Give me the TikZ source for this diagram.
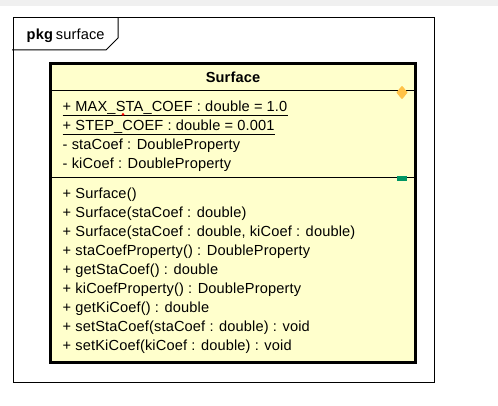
\documentclass[tikz,border=0pt]{standalone}
\usepackage{fontspec}
\setmainfont[LetterSpace=1.0]{Liberation Sans}
\usetikzlibrary{shapes.geometric}
\definecolor{classfill}{RGB}{255,255,204}
\definecolor{topgray}{RGB}{240,240,240}
\definecolor{attrorange}{RGB}{255,194,72}
\definecolor{opgreen}{RGB}{0,150,100}

\begin{document}
\begin{tikzpicture}[x=1pt,y=-1pt,
    member/.style={anchor=base west,inner sep=0pt,font=\fontsize{14.6}{17}\selectfont},
    thinline/.style={line width=1pt}]
  \useasboundingbox (0,0) rectangle (498,406);
  \fill[topgray] (0,0) rectangle (498,6);
  % package frame and its tab
  \draw[thinline] (13,18) rectangle (434,382);
  \draw[thinline] (12,50) -- (106,50) -- (118,38) -- (118,18);
  \node[member,font=\fontsize{14.6}{17}\selectfont\bfseries] (pkgkw) at (26.5,40) {pkg};
  \node[member] (pkgname) at ([xshift=2.5pt]pkgkw.base east) {surface};
  % class box
  \fill[classfill] (50.5,63.5) rectangle (415.5,362.5);
  \draw[thinline] (50.5,91) -- (415.5,91);
  \draw[thinline] (50.5,178) -- (415.5,178);
  \draw[line width=3pt] (50.5,63.5) rectangle (415.5,362.5);
  \node[member,anchor=base,font=\fontsize{14.6}{17}\selectfont\bfseries] (cname) at (233,82.7) {Surface};
  \node[diamond,fill=attrorange,draw=attrorange,line join=round,line width=1.5pt,inner sep=0pt,minimum width=10pt,minimum height=12pt] (attrmark) at (402,92.5) {};
  \node[fill=opgreen,inner sep=0pt,minimum width=10pt,minimum height=5pt] (opmark) at (402,178.5) {};
  % attributes
  \node[member] (attr1) at (62.5,112) {+ MAX\_STA\_COEF : double = 1.0};
  \node[member] (attr2) at (62.5,131) {+ STEP\_COEF : double = 0.001};
  \node[member] (attr3) at (62.5,150) {- staCoef : DoubleProperty};
  \node[member] (attr4) at (62.5,169) {- kiCoef : DoubleProperty};
  \draw[thinline] ([yshift=-3.8pt]attr1.base west) -- ([yshift=-3.8pt]attr1.base east);
  \draw[thinline] ([yshift=-3.8pt]attr2.base west) -- ([yshift=-3.8pt]attr2.base east);
  \fill[red] (123,114.5) circle (1.5);
  % operations
  \foreach \t [count=\i] in {{+ Surface()},
      {+ Surface(staCoef : double)},
      {+ Surface(staCoef : double, kiCoef : double)},
      {+ staCoefProperty() : DoubleProperty},
      {+ getStaCoef() : double},
      {+ kiCoefProperty() : DoubleProperty},
      {+ getKiCoef() : double},
      {+ setStaCoef(staCoef : double) : void},
      {+ setKiCoef(kiCoef : double) : void}}
    \node[member] (op\i) at (62.5,179.3+19*\i) {\t};
\end{tikzpicture}
\end{document}
